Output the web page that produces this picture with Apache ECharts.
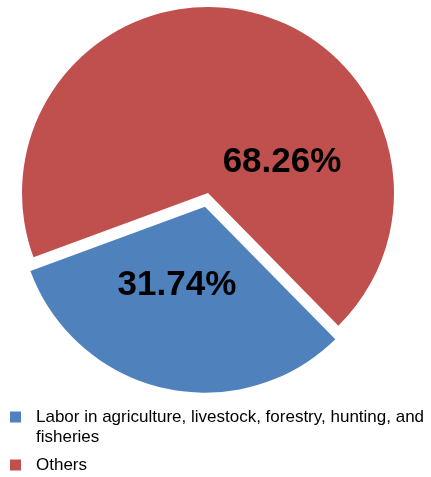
<!DOCTYPE html>
<html>
<head>
<meta charset="utf-8">
<script src="https://cdn.jsdelivr.net/npm/echarts@6/dist/echarts.min.js"></script>
<style>
  html, body { margin: 0; padding: 0; background: #fff; }
  #container { width: 431px; height: 477px; }
</style>
</head>
<body>
<div id="container"></div>
<script>
'use strict';

// slices, in legend order
var categories = ['Labor in agriculture, livestock, forestry, hunting, and fisheries', 'Others'];
var shares = [31.74, 68.26];
var colors = ['#4F81BD', '#C0504D'];

// nudges so the labels sit where the original puts them
var labelShift = [[-7, -15], [53, 63]];

function buildData() {
  return categories.map(function(name, i) {
    return {
      name: name,
      value: shares[i],
      selected: i === 0,
      itemStyle: { color: colors[i] }
    };
  });
}

var dom = document.getElementById('container');
var myChart = echarts.init(dom, null, { renderer: 'canvas' });

myChart.setOption({
  animation: false,
  legend: {
    orient: 'vertical',
    left: 10,
    top: 387,
    padding: 0,
    icon: 'rect',
    itemWidth: 11,
    itemHeight: 11,
    itemGap: 8,
    selectedMode: false,
    data: categories,
    // the long entry wraps; a blank line on top keeps its icon level with the first line
    formatter: function(name) {
      return name === categories[0] ? '\n' + name : name;
    },
    textStyle: {
      fontFamily: 'Liberation Sans',
      fontSize: 17,
      color: '#000',
      width: 395,
      overflow: 'break',
      lineHeight: 20,
      padding: [0, 0, 0, 10]
    }
  },
  series: [{
    type: 'pie',
    center: [208, 193],
    radius: 186,
    startAngle: -45.5,
    clockwise: true,
    selectedMode: 'single',
    selectedOffset: 14,
    avoidLabelOverlap: false,
    label: {
      show: true,
      position: 'inside',
      formatter: function(p) { return p.value.toFixed(2) + '%'; },
      fontFamily: 'Liberation Sans',
      fontWeight: 'bold',
      fontSize: 35,
      color: '#000'
    },
    labelLine: { show: false },
    emphasis: { disabled: true },
    labelLayout: function(params) {
      var s = labelShift[params.dataIndex];
      return { dx: s[0], dy: s[1] };
    },
    data: buildData()
  }]
});
</script>
</body>
</html>
